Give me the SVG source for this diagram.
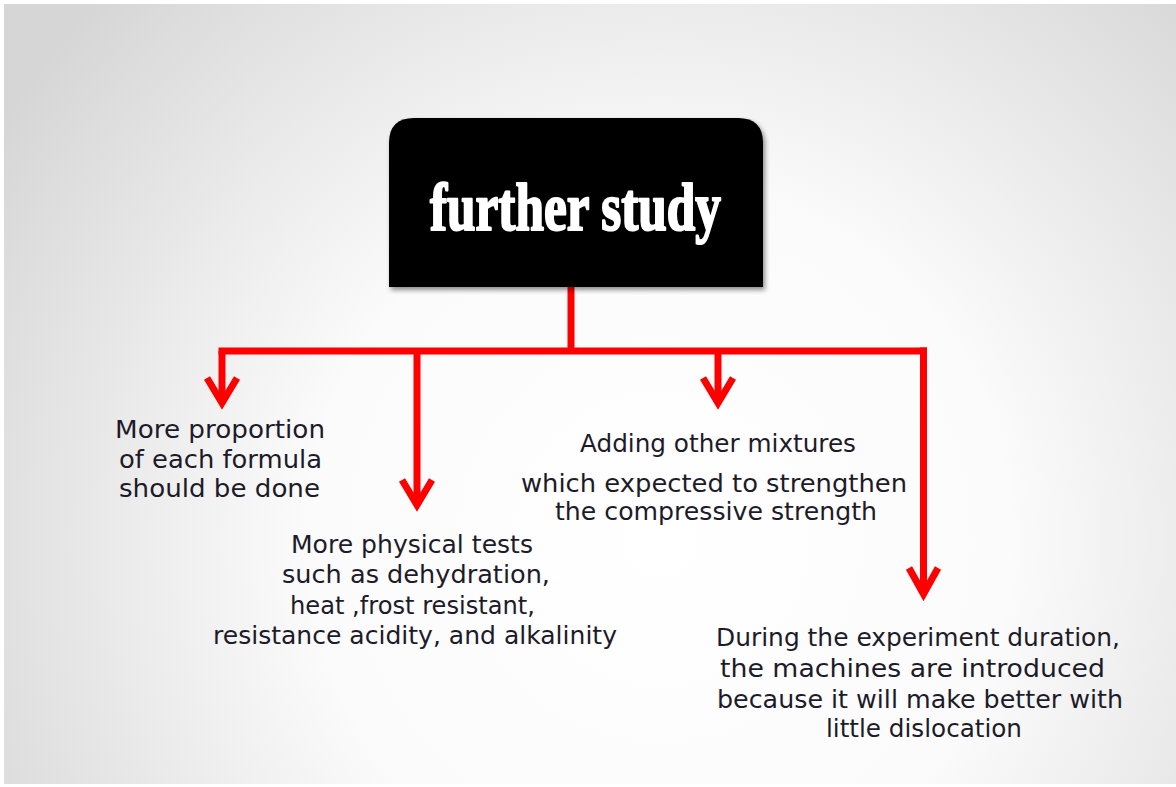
<svg xmlns="http://www.w3.org/2000/svg" width="1176" height="787" viewBox="0 0 1176 787">
  <defs>
    <radialGradient id="bg" gradientUnits="userSpaceOnUse" cx="660" cy="540" r="780">
      <stop offset="0" stop-color="#ffffff"/>
      <stop offset="0.45" stop-color="#fbfbfb"/>
      <stop offset="1" stop-color="#d6d6d6"/>
    </radialGradient>
    <filter id="shadow" x="-10%" y="-10%" width="125%" height="130%">
      <feGaussianBlur in="SourceAlpha" stdDeviation="2.5"/>
      <feOffset dx="2" dy="3" result="b"/>
      <feComponentTransfer><feFuncA type="linear" slope="0.45"/></feComponentTransfer>
      <feMerge><feMergeNode/><feMergeNode in="SourceGraphic"/></feMerge>
    </filter>
    <style>
      .lbl { font-family: "DejaVu Sans", "Liberation Sans", sans-serif; font-size: 24px; fill: #1d1b29; }
      .conn { fill: none; stroke: #ff0000; stroke-width: 7; }
      .head { fill: none; stroke: #ff0000; stroke-width: 7; stroke-linejoin: miter; stroke-linecap: butt; }
      .title { font-family: "Liberation Serif", "DejaVu Serif", serif; font-weight: bold; font-size: 68px; fill: #ffffff; stroke: #ffffff; stroke-width: 2.2; stroke-linejoin: round; }
    </style>
  </defs>

  <rect x="0" y="0" width="1176" height="787" fill="#ffffff"/>
  <rect x="4" y="4" width="1172" height="780" fill="url(#bg)"/>

  <g id="connectors">
    <path class="conn" d="M571,287 V351"/>
    <path class="conn" d="M218.5,351 H927" />
    <path class="conn" d="M222,351 V400"/>
    <path class="head" d="M207,378 L222,403 L237,378"/>
    <path class="conn" d="M417,351 V502"/>
    <path class="head" d="M402,480 L417,505 L432,480"/>
    <path class="conn" d="M718,351 V400"/>
    <path class="head" d="M703,378 L718,403 L733,378"/>
    <path class="conn" d="M923.5,347.5 V590"/>
    <path class="head" d="M909,568 L923.5,594 L938,568"/>
  </g>

  <g id="node-further-study">
    <path d="M389,287 V143 Q389,118 414,118 H738 Q763,118 763,143 V287 Z" fill="#000000" filter="url(#shadow)"/>
    <text class="title" x="430" y="230" textLength="291" lengthAdjust="spacingAndGlyphs">further study</text>
  </g>

  <g id="node-proportion">
    <text class="lbl" x="115" y="438" textLength="210" lengthAdjust="spacingAndGlyphs">More proportion</text>
    <text class="lbl" x="119" y="468" textLength="203" lengthAdjust="spacingAndGlyphs">of each formula</text>
    <text class="lbl" x="119" y="497" textLength="201" lengthAdjust="spacingAndGlyphs">should be done</text>
  </g>

  <g id="node-physical-tests">
    <text class="lbl" x="291" y="553" textLength="242" lengthAdjust="spacingAndGlyphs">More physical tests</text>
    <text class="lbl" x="282" y="583" textLength="268" lengthAdjust="spacingAndGlyphs">such as dehydration,</text>
    <text class="lbl" x="290" y="614" textLength="245" lengthAdjust="spacingAndGlyphs">heat ,frost resistant,</text>
    <text class="lbl" x="213" y="644" textLength="404" lengthAdjust="spacingAndGlyphs">resistance acidity, and alkalinity</text>
  </g>

  <g id="node-mixtures">
    <text class="lbl" x="580" y="452" textLength="276" lengthAdjust="spacingAndGlyphs">Adding other mixtures</text>
    <text class="lbl" x="521" y="492" textLength="386" lengthAdjust="spacingAndGlyphs">which expected to strengthen</text>
    <text class="lbl" x="555" y="520" textLength="322" lengthAdjust="spacingAndGlyphs">the compressive strength</text>
  </g>

  <g id="node-machines">
    <text class="lbl" x="716" y="646" textLength="404" lengthAdjust="spacingAndGlyphs">During the experiment duration,</text>
    <text class="lbl" x="720" y="677" textLength="385" lengthAdjust="spacingAndGlyphs">the machines are introduced</text>
    <text class="lbl" x="717" y="708" textLength="406" lengthAdjust="spacingAndGlyphs">because it will make better with</text>
    <text class="lbl" x="826" y="737" textLength="196" lengthAdjust="spacingAndGlyphs">little dislocation</text>
  </g>
</svg>
